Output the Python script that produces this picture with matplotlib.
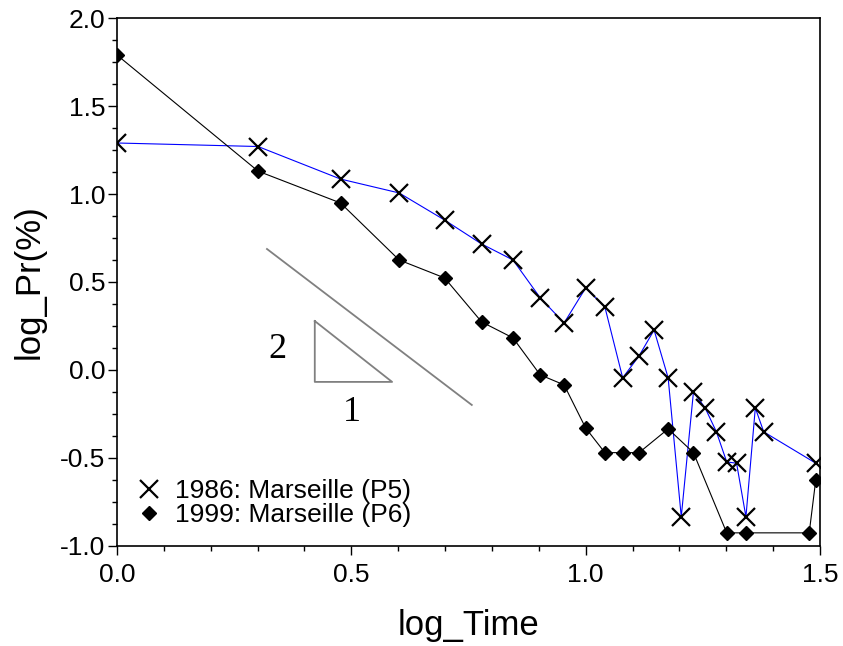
import matplotlib.pyplot as plt
from matplotlib.ticker import MultipleLocator

plt.rcParams['font.family'] = ['Liberation Sans', 'DejaVu Sans']

# 1986: Marseille (P5)
time_p5 = [0.0, 0.301, 0.477, 0.602, 0.699, 0.778, 0.845, 0.903, 0.954, 1.0,
           1.041, 1.079, 1.114, 1.146, 1.176, 1.204, 1.230, 1.255, 1.279, 1.301,
           1.322, 1.342, 1.362, 1.380, 1.491]
pr_p5 = [1.29, 1.27, 1.085, 1.006, 0.852, 0.716, 0.625, 0.41, 0.267, 0.466,
         0.358, -0.045, 0.08, 0.227, -0.045, -0.835, -0.125, -0.216, -0.352, -0.523,
         -0.53, -0.835, -0.216, -0.352, -0.53]

# 1999: Marseille (P6)
time_p6 = [0.0, 0.301, 0.477, 0.602, 0.699, 0.778, 0.845, 0.903, 0.954, 1.0,
           1.041, 1.079, 1.114, 1.176, 1.230, 1.301, 1.342, 1.477, 1.491]
pr_p6 = [1.79, 1.13, 0.949, 0.625, 0.523, 0.273, 0.182, -0.028, -0.085, -0.33,
         -0.47, -0.47, -0.47, -0.335, -0.47, -0.926, -0.926, -0.926, -0.625]

# slope 2:1 guide
guide_x = [0.32, 0.757]
guide_y = [0.6875, -0.199]
tri_x = [0.422, 0.422, 0.587, 0.422]
tri_y = [0.278, -0.068, -0.068, 0.278]

fig = plt.figure(figsize=(8.43, 6.46), dpi=100)
ax = fig.add_axes([0.1388, 0.155, 0.8339, 0.817])

ax.plot(time_p5, pr_p5, color='#0000ff', lw=0.8, marker='x', ms=13, mew=1.6,
        mec='black', label='1986: Marseille (P5)')
ax.plot(time_p6, pr_p6, color='black', lw=0.8, marker='D', ms=7,
        mfc='black', mec='black', label='1999: Marseille (P6)')

ax.plot(guide_x, guide_y, color='#808080', lw=1.3)
ax.plot(tri_x, tri_y, color='#808080', lw=1.3)
ax.text(0.343, 0.114, '2', family='Liberation Serif', fontsize=26,
        ha='center', va='center')
ax.text(0.501, -0.24, '1', family='Liberation Serif', fontsize=26,
        ha='center', va='center')

ax.set_xlim(0, 1.5)
ax.set_ylim(-1, 2)
ax.xaxis.set_major_locator(MultipleLocator(0.5))
ax.xaxis.set_minor_locator(MultipleLocator(0.1))
ax.yaxis.set_major_locator(MultipleLocator(0.5))
ax.yaxis.set_minor_locator(MultipleLocator(0.125))
ax.xaxis.set_major_formatter(plt.FormatStrFormatter('%.1f'))
ax.yaxis.set_major_formatter(plt.FormatStrFormatter('%.1f'))
ax.tick_params(which='major', direction='out', length=6.5, width=1,
               labelsize=19, pad=2)
ax.tick_params(axis='x', which='major', pad=6)
ax.tick_params(which='minor', direction='out', length=3.5, width=1)
for s in ax.spines.values():
    s.set_linewidth(1.2)

ax.set_xlabel('log_Time', fontsize=25, labelpad=16)
ax.set_ylabel('log_Pr(%)', fontsize=25, labelpad=10)

leg = ax.legend(loc='lower left', bbox_to_anchor=(0.0, 0.0), frameon=False,
                fontsize=19, handlelength=1.0, handletextpad=0.5,
                labelspacing=0.0, borderaxespad=0.3)
for h in leg.legend_handles:
    h.set_linestyle('none')

fig.savefig('out.png', dpi=100)
